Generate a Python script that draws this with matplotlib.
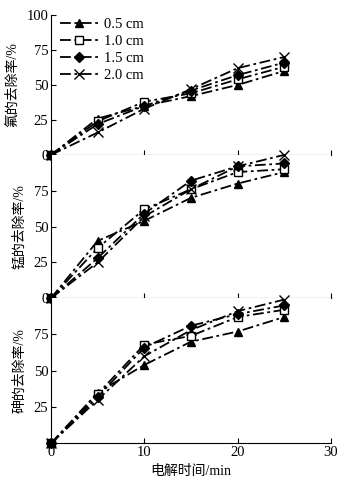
import numpy as np
import matplotlib
matplotlib.use("Agg")
import matplotlib.pyplot as plt

plt.rcParams['font.family'] = ['Liberation Serif', 'Noto Sans CJK SC']
plt.rcParams['font.size'] = 10.5
plt.rcParams['axes.unicode_minus'] = False

# electrolysis time (min)
time_min = [0, 5, 10, 15, 20, 25]
spacing = ['0.5 cm', '1.0 cm', '1.5 cm', '2.0 cm']

# fluoride removal (%)
f_05 = [0, 26, 35, 42, 50, 60]
f_10 = [0, 24, 38, 44, 54, 63]
f_15 = [0, 22, 35, 46, 57, 66]
f_20 = [0, 16, 33, 47, 62, 70]

# manganese removal (%)
mn_05 = [0, 40, 54, 70, 80, 88]
mn_10 = [0, 35, 62, 76, 88, 90]
mn_15 = [0, 28, 59, 82, 92, 94]
mn_20 = [0, 25, 57, 76, 92, 100]

# arsenic removal (%)
as_05 = [0, 35, 54, 70, 77, 87]
as_10 = [0, 34, 68, 74, 87, 92]
as_15 = [0, 32, 66, 81, 89, 95]
as_20 = [0, 30, 60, 78, 91, 99]

panels = [
    ('氟的去除率/%', [f_05, f_10, f_15, f_20]),
    ('锰的去除率/%', [mn_05, mn_10, mn_15, mn_20]),
    ('砷的去除率/%', [as_05, as_10, as_15, as_20]),
]
markers = ['^', 's', 'D', 'x']
faces = ['black', 'white', 'black', 'black']
msizes = [6, 6, 5.5, 7.5]

fig = plt.figure(figsize=(3.52, 4.84), dpi=100)
left, width = 0.145, 0.795
# bottoms / heights in figure fraction
boxes = [(0.680, 0.289), (0.384, 0.296), (0.084, 0.300)]

axes = []
for i, (ylab, series) in enumerate(panels):
    b, h = boxes[i]
    ax = fig.add_axes([left, b, width, h])
    for k, ys in enumerate(series):
        ax.plot(time_min, ys, color='black', lw=1.3, dashes=(6, 2, 1.5, 2),
                marker=markers[k], mfc=faces[k], mec='black', ms=msizes[k],
                mew=1.0, clip_on=False, label=spacing[k])
    ax.set_xlim(0, 30)
    ax.set_ylim(0, 100)
    ax.spines['top'].set_visible(False)
    ax.spines['right'].set_visible(False)
    ax.tick_params(direction='in', length=3.5, width=0.8, labelsize=10.5, pad=2)
    ax.set_xticks([0, 10, 20, 30])
    if i == 0:
        ax.set_yticks([0, 25, 50, 75, 100])
    elif i == 1:
        ax.set_yticks([0, 25, 50, 75])
    else:
        ax.set_yticks([25, 50, 75])
    if i < 2:
        ax.tick_params(labelbottom=False)
    ax.set_ylabel(ylab, fontsize=10, labelpad=5)
    axes.append(ax)

axes[0].legend(loc='upper left', frameon=False, handlelength=2.6,
               handletextpad=0.4, labelspacing=0.25, borderaxespad=0.2,
               fontsize=10.5, bbox_to_anchor=(0.0, 1.04))
axes[2].set_xlabel('电解时间/min', fontsize=10, labelpad=4)

fig.savefig('out.png', dpi=100)
